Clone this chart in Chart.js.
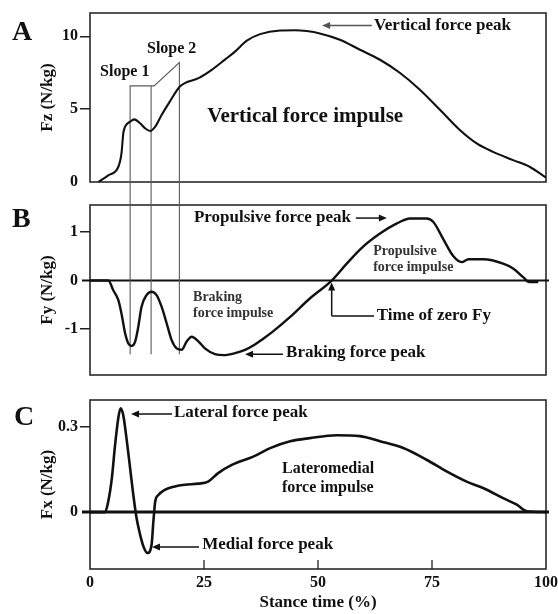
<!DOCTYPE html>
<html lang="en">
<head>
<meta charset="UTF-8">
<title>Ground reaction force components during stance</title>
<script src="https://cdn.jsdelivr.net/npm/chart.js@4.4.1/dist/chart.umd.min.js"></script>
<style>
  body { margin: 0; background: #fff; }
  #wrap { position: relative; width: 558px; height: 614px; }
  .panel { position: absolute; left: 0; width: 558px; }
</style>
</head>
<body>
<div id="wrap">
  <div class="panel" style="top:0;height:195px"><canvas id="chartA" width="558" height="195"></canvas></div>
  <div class="panel" style="top:195px;height:195px"><canvas id="chartB" width="558" height="195"></canvas></div>
  <div class="panel" style="top:390px;height:224px"><canvas id="chartC" width="558" height="224"></canvas></div>
</div>
<script>
// stance time (%) and force per body mass (N/kg) for each component
const fzTime  = [1.8, 4.0, 6.2, 6.9, 7.3, 7.7, 8.8, 9.7, 11.0, 12.1, 13.2, 14.3, 15.7, 17.5, 19.7, 20.8, 23.8, 26.7, 29.6, 31.8,
                 34.4, 37.3, 41.7, 45.0, 47.5, 50.4, 54.8, 59.2, 63.6, 68.0, 72.4, 76.8, 81.1, 84.8, 88.4, 92.8, 96.5, 100];
const fzForce = [0, 0.46, 1.03, 1.96, 3.34, 3.8, 4.14, 4.3, 4.03, 3.68, 3.5, 3.8, 4.6, 5.52, 6.55, 6.79, 7.13, 7.7, 8.4, 8.95,
                 9.7, 10.15, 10.4, 10.42, 10.36, 10.2, 9.77, 9.08, 8.39, 7.48, 6.32, 4.94, 3.57, 2.65, 2.07, 1.5, 1.03, 0.3];

const fyTime  = [0, 4.0, 5.1, 6.2, 6.9, 7.7, 8.4, 9.1, 9.9, 10.6, 11.3, 12.4, 13.5, 14.6, 15.7, 16.8, 17.9, 19.0, 20.1, 21.2,
                 22.3, 23.8, 25.2, 27.4, 29.4, 31.8, 34.0, 36.0, 38.0, 40.0, 43.9, 48.2, 53.0, 56.3, 59.9, 63.6, 67.3, 70.2, 73.8, 75.3,
                 77.5, 79.7, 81.5, 83.0, 86.3, 90.6, 92.8, 95.0, 96.3, 98.3];
const fyForce = [0, 0, -0.2, -0.4, -0.68, -1.09, -1.3, -1.35, -1.26, -0.95, -0.54, -0.3, -0.23, -0.3, -0.54, -0.88, -1.23, -1.4, -1.43, -1.26,
                 -1.16, -1.26, -1.4, -1.52, -1.54, -1.5, -1.43, -1.33, -1.2, -1.06, -0.75, -0.37, 0, 0.35, 0.7, 0.97, 1.18, 1.28, 1.28, 1.21,
                 0.85, 0.5, 0.38, 0.44, 0.44, 0.35, 0.25, 0.07, -0.03, -0.03];

const fxTime  = [0, 3.3, 4.0, 4.8, 5.5, 6.2, 6.7, 7.3, 8.0, 8.8, 9.5, 10.2, 11.0, 11.7, 12.6, 13.5, 13.9, 14.3, 15.0, 16.4,
                 18.6, 20.8, 23.8, 25.9, 28.1, 31.1, 35.8, 39.5, 43.9, 48.2, 54.1, 59.2, 63.6, 68.7, 73.8, 78.2, 82.6, 86.3, 90.6, 93.6,
                 95.8, 100];
const fxForce = [0, 0, 0.037, 0.12, 0.236, 0.33, 0.365, 0.34, 0.26, 0.154, 0.06, -0.02, -0.08, -0.12, -0.144, -0.115, -0.033, 0.037, 0.06, 0.078,
                 0.09, 0.096, 0.1, 0.107, 0.137, 0.166, 0.195, 0.225, 0.249, 0.26, 0.27, 0.267, 0.249, 0.225, 0.184, 0.143, 0.107, 0.084, 0.049, 0.026,
                 0.003, 0];

const xTicks  = [0, 25, 50, 75, 100];
const fzTicks = [0, 5, 10];
const fyTicks = [-1, 0, 1];
const fxTicks = [0, 0.3];

// event markers running through panels A and B
const slopeMarks = [8.8, 13.4, 19.6];
const slopeTops  = [6.6, 6.6, 8.2];
const zeroFyTime = 53.0;

const SERIF = '"Liberation Serif", "Times New Roman", "DejaVu Serif", serif';
const INK = '#111';
const font = size => 'bold ' + size + 'px ' + SERIF;

function label(ctx, str, x, y, size, color) {
  ctx.font = font(size);
  ctx.fillStyle = color || INK;
  ctx.textAlign = 'left';
  ctx.textBaseline = 'middle';
  ctx.fillText(str, x, y);
}

function arrow(ctx, x1, y1, x2, y2, color) {
  const a = Math.atan2(y2 - y1, x2 - x1);
  const c = Math.cos(a), s = Math.sin(a);
  ctx.strokeStyle = color || INK;
  ctx.fillStyle = color || INK;
  ctx.lineWidth = 1.5;
  ctx.beginPath();
  ctx.moveTo(x1, y1);
  ctx.lineTo(x2 - 5 * c, y2 - 5 * s);
  ctx.stroke();
  ctx.beginPath();
  ctx.moveTo(x2, y2);
  ctx.lineTo(x2 - 8 * c + 3.5 * s, y2 - 8 * s - 3.5 * c);
  ctx.lineTo(x2 - 8 * c - 3.5 * s, y2 - 8 * s + 3.5 * c);
  ctx.closePath();
  ctx.fill();
}

// box around the plot area, zero line, inner x ticks and the panel letter
const frame = {
  id: 'frame',
  beforeDatasetsDraw(chart, args, opts) {
    const {ctx, chartArea: a, scales: {x, y}} = chart;
    ctx.save();
    ctx.strokeStyle = '#2a2a2a';
    ctx.lineWidth = 1.6;
    ctx.strokeRect(a.left, a.top, a.right - a.left, a.bottom - a.top);
    if (opts.zeroLine) {
      const y0 = y.getPixelForValue(0);
      ctx.strokeStyle = INK;
      ctx.lineWidth = opts.zeroLine;
      ctx.beginPath();
      ctx.moveTo(a.left - 8, y0);
      ctx.lineTo(a.right + 3, y0);
      ctx.stroke();
    }
    if (opts.innerTicks) {
      ctx.strokeStyle = '#222';
      ctx.lineWidth = 1.3;
      xTicks.filter(v => v > 0 && v < 100).forEach(v => {
        const px = x.getPixelForValue(v);
        ctx.beginPath();
        ctx.moveTo(px, a.bottom);
        ctx.lineTo(px, a.bottom - 9);
        ctx.stroke();
      });
    }
    ctx.font = font(28);
    ctx.fillStyle = INK;
    ctx.textAlign = 'left';
    ctx.textBaseline = 'alphabetic';
    ctx.fillText(opts.letter, opts.letterX, opts.letterY);
    ctx.restore();
  }
};

function makePanel(id, time, force, cfg) {
  const tickFont = {family: SERIF, size: 16, weight: 'bold'};
  const titleFont = {family: SERIF, size: 17, weight: 'bold'};
  return new Chart(document.getElementById(id), {
    type: 'line',
    data: {
      datasets: [{
        data: time.map((t, i) => ({x: t, y: force[i]})),
        borderColor: INK,
        borderWidth: cfg.lineWidth,
        pointRadius: 0,
        cubicInterpolationMode: 'monotone',
        borderJoinStyle: 'round',
        fill: false
      }]
    },
    options: {
      responsive: false,
      animation: false,
      devicePixelRatio: 1,
      layout: {padding: {top: cfg.padTop, right: 12, bottom: cfg.padBottom, left: 0}},
      plugins: {
        legend: {display: false},
        tooltip: {enabled: false},
        frame: cfg.frame
      },
      scales: {
        x: {
          type: 'linear',
          min: 0,
          max: 100,
          display: !!cfg.xTitle,
          afterBuildTicks: s => { s.ticks = xTicks.map(v => ({value: v})); },
          afterFit: s => { s.paddingLeft = 0; s.paddingRight = 0; if (cfg.xTitle) s.height = 45; },
          grid: {display: false, drawTicks: false},
          border: {display: false},
          ticks: {color: INK, font: tickFont, padding: 4, maxRotation: 0, autoSkip: false},
          title: {display: !!cfg.xTitle, text: cfg.xTitle, color: INK, font: titleFont, padding: {top: 0, bottom: 1}}
        },
        y: {
          type: 'linear',
          min: cfg.yMin,
          max: cfg.yMax,
          afterBuildTicks: s => { s.ticks = cfg.yTicks.map(v => ({value: v})); },
          afterFit: s => { s.width = 90; s.paddingTop = 0; s.paddingBottom = 0; },
          grid: {
            drawOnChartArea: false,
            drawTicks: true,
            tickLength: 10,
            lineWidth: 1.5,
            color: c => (c.tick && c.tick.value === 0) ? 'rgba(0,0,0,0)' : '#222'
          },
          border: {display: false},
          ticks: {color: INK, font: tickFont, padding: 2, callback: v => String(v)},
          title: {display: true, text: cfg.yTitle, color: INK, font: titleFont, padding: {top: 37, bottom: 0}}
        }
      }
    },
    plugins: [frame, cfg.notes]
  });
}

// panel A: vertical force
const notesA = {
  id: 'notesA',
  beforeDatasetsDraw(chart) {
    const {ctx, scales: {x, y}} = chart;
    const m = slopeMarks.map(v => x.getPixelForValue(v));
    const t = slopeTops.map(v => y.getPixelForValue(v));
    ctx.save();
    ctx.strokeStyle = '#5a5a5a';
    ctx.lineWidth = 1.1;
    ctx.beginPath();
    ctx.moveTo(m[0], chart.height); ctx.lineTo(m[0], t[0]); ctx.lineTo(m[1], t[1]); ctx.lineTo(m[1], chart.height);
    ctx.moveTo(m[1], t[1]); ctx.lineTo(m[1] + 3, t[1]); ctx.lineTo(m[2], t[2]); ctx.lineTo(m[2], chart.height);
    ctx.stroke();
    ctx.restore();
  },
  afterDraw(chart) {
    const {ctx, scales: {x, y}} = chart;
    const px = v => x.getPixelForValue(v), py = v => y.getPixelForValue(v);
    ctx.save();
    label(ctx, 'Slope 1', px(2.2), py(7.55), 16);
    label(ctx, 'Slope 2', px(12.5), py(9.13), 16);
    arrow(ctx, px(61.8), py(10.74), px(50.9), py(10.74), '#555');
    label(ctx, 'Vertical force peak', px(62.3), py(10.74), 17);
    label(ctx, 'Vertical force impulse', px(25.7), py(4.46), 21);
    ctx.restore();
  }
};

// panel B: anteroposterior force
const notesB = {
  id: 'notesB',
  beforeDatasetsDraw(chart) {
    const {ctx, scales: {x, y}} = chart;
    const bottom = y.getPixelForValue(-1.52);
    ctx.save();
    ctx.strokeStyle = '#5a5a5a';
    ctx.lineWidth = 1.1;
    ctx.beginPath();
    slopeMarks.forEach(v => {
      const px = x.getPixelForValue(v);
      ctx.moveTo(px, 0);
      ctx.lineTo(px, bottom);
    });
    ctx.stroke();
    ctx.restore();
  },
  afterDraw(chart) {
    const {ctx, scales: {x, y}} = chart;
    const px = v => x.getPixelForValue(v), py = v => y.getPixelForValue(v);
    ctx.save();
    label(ctx, 'Propulsive force peak', px(22.8), py(1.29), 17);
    arrow(ctx, px(58.3), py(1.29), px(65.1), py(1.29));
    label(ctx, 'Propulsive', px(62.1), py(0.61), 14, '#333');
    label(ctx, 'force impulse', px(62.1), py(0.28), 14, '#333');
    label(ctx, 'Braking', px(22.6), py(-0.34), 14, '#333');
    label(ctx, 'force impulse', px(22.6), py(-0.67), 14, '#333');
    // elbow arrow to the zero crossing
    const zx = px(zeroFyTime), ly = py(-0.73);
    ctx.strokeStyle = INK;
    ctx.lineWidth = 1.5;
    ctx.beginPath();
    ctx.moveTo(px(62.3), ly);
    ctx.lineTo(zx, ly);
    ctx.stroke();
    arrow(ctx, zx, ly, zx, py(-0.04));
    label(ctx, 'Time of zero Fy', px(62.9), ly, 17);
    arrow(ctx, px(42.3), py(-1.52), px(34.0), py(-1.52));
    label(ctx, 'Braking force peak', px(43.0), py(-1.49), 17);
    ctx.restore();
  }
};

// panel C: mediolateral force
const notesC = {
  id: 'notesC',
  afterDraw(chart) {
    const {ctx, scales: {x, y}} = chart;
    const px = v => x.getPixelForValue(v), py = v => y.getPixelForValue(v);
    ctx.save();
    arrow(ctx, px(18.0), py(0.345), px(9.0), py(0.345));
    label(ctx, 'Lateral force peak', px(18.4), py(0.348), 17);
    label(ctx, 'Lateromedial', px(42.1), py(0.151), 16);
    label(ctx, 'force impulse', px(42.1), py(0.085), 16);
    arrow(ctx, px(23.9), py(-0.123), px(13.6), py(-0.123));
    label(ctx, 'Medial force peak', px(24.6), py(-0.116), 17);
    ctx.restore();
  }
};

makePanel('chartA', fzTime, fzForce, {
  yMin: 0, yMax: 11.6, yTicks: fzTicks, yTitle: 'Fz (N/kg)',
  padTop: 13, padBottom: 13, lineWidth: 2.1,
  frame: {letter: 'A', letterX: 12, letterY: 40},
  notes: notesA
});

makePanel('chartB', fyTime, fyForce, {
  yMin: -1.95, yMax: 1.56, yTicks: fyTicks, yTitle: 'Fy (N/kg)',
  padTop: 10, padBottom: 15, lineWidth: 2.4,
  frame: {letter: 'B', letterX: 12, letterY: 32, zeroLine: 2},
  notes: notesB
});

makePanel('chartC', fxTime, fxForce, {
  yMin: -0.2, yMax: 0.394, yTicks: fxTicks, yTitle: 'Fx (N/kg)', xTitle: 'Stance time (%)',
  padTop: 10, padBottom: 0, lineWidth: 2.6,
  frame: {letter: 'C', letterX: 14, letterY: 35, zeroLine: 3, innerTicks: true},
  notes: notesC
});
</script>
</body>
</html>
